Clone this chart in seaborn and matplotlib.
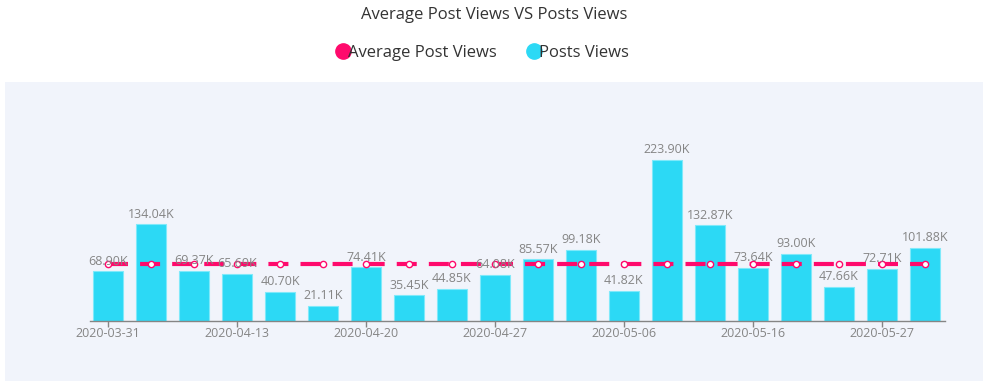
import numpy as np
import pandas as pd
import seaborn as sns
import matplotlib.pyplot as plt
from matplotlib.lines import Line2D
from matplotlib.patches import Rectangle

# data
dates = ["2020-03-31", "2020-04-04", "2020-04-09", "2020-04-13", "2020-04-15",
         "2020-04-17", "2020-04-20", "2020-04-22", "2020-04-24", "2020-04-27",
         "2020-04-30", "2020-05-03", "2020-05-06", "2020-05-10", "2020-05-13",
         "2020-05-16", "2020-05-20", "2020-05-23", "2020-05-27", "2020-05-30"]
post_views = [68.90, 134.04, 69.37, 65.69, 40.70, 21.11, 74.41, 35.45, 44.85, 64.08,
              85.57, 99.18, 41.82, 223.90, 132.87, 73.64, 93.00, 47.66, 72.71, 101.88]
avg_value = 79.54
avg_views = [avg_value] * len(dates)

pink = "#ff0a6c"
cyan = "#2cd9f5"
grey = "#858585"

df = pd.DataFrame({"date": dates, "views": post_views, "avg": avg_views})

sns.set_theme(style="white")
plt.rcParams["font.family"] = ["Open Sans", "DejaVu Sans"]

W, H = 989, 386
fig = plt.figure(figsize=(W / 100, H / 100), dpi=100)
fig.patch.set_facecolor("white")

# light panel behind the plot
fig.patches.append(Rectangle((5 / W, 1 - 381 / H), 978 / W, 299 / H,
                             transform=fig.transFigure, facecolor="#f1f4fb",
                             edgecolor="none", zorder=-10))

ax = fig.add_axes([90 / W, 1 - 321 / H, 855 / W, 216 / H])
ax.set_facecolor("none")

sns.barplot(data=df, x="date", y="views", color=cyan, width=0.69,
            saturation=1, ax=ax, zorder=2)
for p in ax.patches:
    p.set_edgecolor("#7fe9fa")
    p.set_linewidth(0.8)

x = np.arange(len(dates))
ax.plot(x, df["avg"], color=pink, lw=3, dashes=(4.8, 2.9), zorder=3,
        marker="o", markersize=4.5, markerfacecolor="white",
        markeredgecolor=pink, markeredgewidth=1)

for i, v in enumerate(post_views):
    ax.text(i, v + 5, f"{v:.2f}K", ha="center", va="bottom",
            fontsize=9, color=grey, zorder=4)

ax.set_xlim(-0.42, 19.47)
ax.set_ylim(0, 300)
ax.set_xlabel("")
ax.set_ylabel("")
ax.set_yticks([])
ax.set_xticks(x[::3])
ax.set_xticklabels(dates[::3], fontsize=9, color=grey)
ax.tick_params(axis="x", length=4, width=1, color=grey, pad=0.5, bottom=True)
for s in ["top", "right", "left"]:
    ax.spines[s].set_visible(False)
ax.spines["bottom"].set_color(grey)
ax.spines["bottom"].set_linewidth(1)

fig.text(0.5, 1 - 15 / H, "Average Post Views VS Posts Views", ha="center",
         va="center", fontsize=12, color="#333333")

handles = [Line2D([], [], ls="", marker="o", markersize=11, color=pink),
           Line2D([], [], ls="", marker="o", markersize=11, color=cyan)]
fig.legend(handles, ["Average Post Views", "Posts Views"], loc="center",
           bbox_to_anchor=(484 / W, 1 - 53 / H), ncol=2, frameon=False,
           handlelength=0.5, handletextpad=0.05, columnspacing=2.0,
           prop={"size": 12}, labelcolor="#333333")

fig.savefig("out.png", dpi=100)
